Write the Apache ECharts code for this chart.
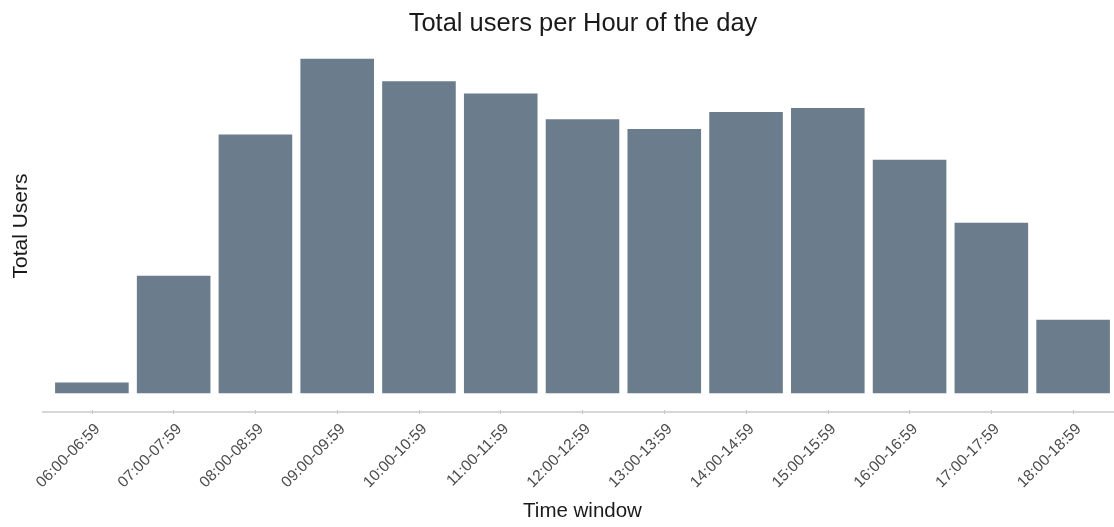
<!DOCTYPE html>
<html>
<head>
<meta charset="utf-8">
<script src="https://cdn.jsdelivr.net/npm/echarts@6/dist/echarts.min.js"></script>
<style>
  html, body { margin: 0; padding: 0; background: #ffffff; }
  #chart { width: 1114px; height: 527px; }
</style>
</head>
<body>
<div id="chart"></div>
<script>
// Hourly time windows and the number of users seen in each
const timeWindows = [
  '06:00-06:59', '07:00-07:59', '08:00-08:59', '09:00-09:59', '10:00-10:59',
  '11:00-11:59', '12:00-12:59', '13:00-13:59', '14:00-14:59', '15:00-15:59',
  '16:00-16:59', '17:00-17:59', '18:00-18:59'
];
const totalUsers = [107, 1180, 2597, 3357, 3130, 3007, 2750, 2653, 2823, 2863, 2343, 1710, 737];

const barColor = '#6b7d8c';
const axisGrey = '#c8c8c8';
const textFont = 'Liberation Sans, Arial, sans-serif';

const chart = echarts.init(document.getElementById('chart'), null, { renderer: 'canvas' });

chart.setOption({
  backgroundColor: '#ffffff',
  animation: false,
  title: {
    text: 'Total users per Hour of the day',
    left: 578,
    textAlign: 'center',
    top: 6,
    textStyle: { fontFamily: textFont, fontSize: 25.5, fontWeight: 'normal', color: '#1a1a1a' }
  },
  grid: { left: 51, right: -3, top: 42, bottom: 115, containLabel: false },
  xAxis: {
    type: 'category',
    data: timeWindows,
    boundaryGap: true,
    name: 'Time window',
    nameLocation: 'middle',
    nameGap: 91,
    nameTextStyle: { fontFamily: textFont, fontSize: 20.5, color: '#1a1a1a' },
    axisLine: { show: false, onZero: false },
    axisTick: { show: true, alignWithLabel: true, length: 4, lineStyle: { color: axisGrey } },
    axisLabel: {
      rotate: 45,
      margin: 11,
      interval: 0,
      align: 'right',
      verticalAlign: 'top',
      fontFamily: textFont,
      fontSize: 15.5,
      color: '#4d4d4d'
    }
  },
  yAxis: {
    type: 'value',
    min: v => -0.05 * v.max,
    max: v => 1.05 * v.max,
    name: 'Total Users',
    nameLocation: 'middle',
    nameGap: 19,
    nameTextStyle: { fontFamily: textFont, fontSize: 21, color: '#1a1a1a' },
    axisLine: { show: false },
    axisTick: { show: false },
    axisLabel: { show: false },
    splitLine: { show: false }
  },
  series: [{
    type: 'bar',
    data: totalUsers,
    barWidth: '90%',
    itemStyle: { color: barColor },
    emphasis: { disabled: true }
  }],
  // x-axis baseline, running the full panel width
  graphic: [{
    type: 'line',
    shape: { x1: 42, y1: 412, x2: 1114, y2: 412 },
    style: { stroke: axisGrey, lineWidth: 1.5 },
    silent: true
  }]
});
</script>
</body>
</html>
